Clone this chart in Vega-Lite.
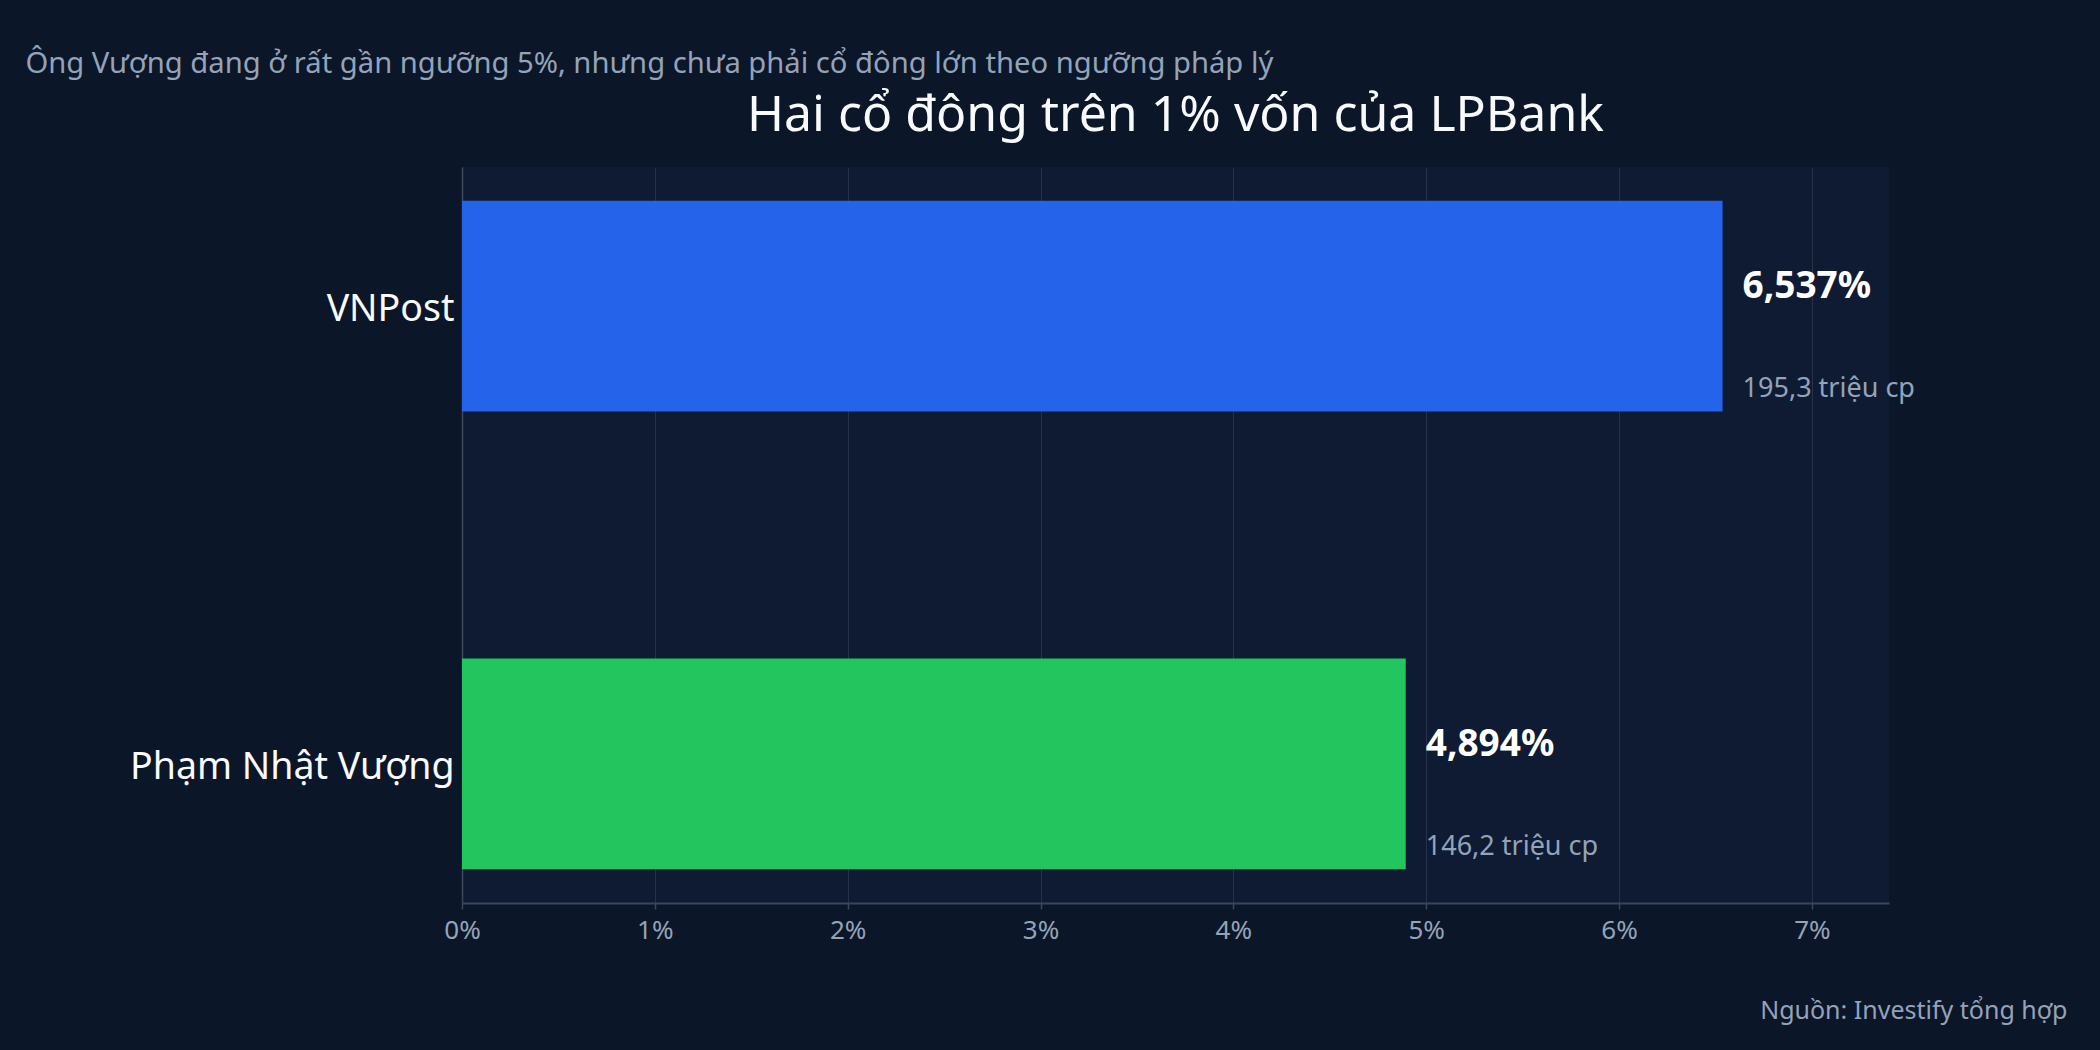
{
  "$schema": "https://vega.github.io/schema/vega-lite/v6.json",
  "width": 1427,
  "height": 736,
  "autosize": "none",
  "padding": {"left": 462, "top": 167, "right": 211, "bottom": 147},
  "background": "#0b1628",
  "title": {
    "text": "Hai cổ đông trên 1% vốn của LPBank",
    "anchor": "middle",
    "frame": "group",
    "font": "Noto Sans",
    "fontSize": 50,
    "fontWeight": "normal",
    "color": "#f8fafc",
    "offset": 28,
    "dy": 120
  },
  "data": {
    "values": [
      {"name": "VNPost", "pct": 6.537, "label": "6,537%", "shares": "195,3 triệu cp"},
      {"name": "Phạm Nhật Vượng", "pct": 4.894, "label": "4,894%", "shares": "146,2 triệu cp"}
    ]
  },
  "encoding": {
    "y": {
      "field": "name",
      "type": "nominal",
      "sort": null,
      "scale": {"paddingInner": 0.54, "paddingOuter": 0.074},
      "axis": {
        "orient": "left",
        "domain": true,
        "domainColor": "#3b475e",
        "domainWidth": 1.5,
        "ticks": false,
        "grid": false,
        "labelPadding": 8,
        "labelOffset": 4,
        "labelColor": "#f8fafc",
        "labelFont": "Noto Sans",
        "labelFontSize": 37.5,
        "labelLimit": 0,
        "title": "Ông Vượng đang ở rất gần ngưỡng 5%, nhưng chưa phải cổ đông lớn theo ngưỡng pháp lý",
        "titleAngle": 0,
        "titleX": -437,
        "titleY": -95,
        "titleAlign": "left",
        "titleBaseline": "alphabetic",
        "titleColor": "#94a3b8",
        "titleFont": "Noto Sans",
        "titleFontSize": 29.2,
        "titleFontWeight": "normal"
      }
    },
    "x": {
      "field": "pct",
      "type": "quantitative",
      "scale": {"domain": [0, 7.4], "nice": false, "zero": true},
      "axis": {
        "orient": "bottom",
        "values": [0, 1, 2, 3, 4, 5, 6, 7],
        "labelExpr": "datum.value + '%'",
        "labelFlush": false,
        "grid": true,
        "gridColor": "#26324a",
        "gridWidth": 1,
        "domain": true,
        "domainColor": "#3b475e",
        "domainWidth": 2,
        "ticks": true,
        "tickColor": "#3b475e",
        "tickSize": 6,
        "tickWidth": 1.5,
        "labelColor": "#94a3b8",
        "labelFont": "Noto Sans",
        "labelFontSize": 26,
        "labelPadding": 8,
        "title": "Nguồn: Investify tổng hợp",
        "titleX": 1605,
        "titleY": 115,
        "titleAlign": "right",
        "titleBaseline": "alphabetic",
        "titleColor": "#94a3b8",
        "titleFont": "Noto Sans",
        "titleFontSize": 25,
        "titleFontWeight": "normal"
      }
    }
  },
  "layer": [
    {
      "mark": {"type": "bar"},
      "encoding": {
        "color": {
          "field": "name",
          "type": "nominal",
          "scale": {"domain": ["VNPost", "Phạm Nhật Vượng"], "range": ["#2563eb", "#22c55e"]},
          "legend": null
        }
      }
    },
    {
      "mark": {"type": "text", "align": "left", "baseline": "alphabetic", "dx": 20, "dy": -8, "font": "Noto Sans", "fontSize": 37, "fontWeight": "bold", "color": "#ffffff"},
      "encoding": {"text": {"field": "label"}}
    },
    {
      "mark": {"type": "text", "align": "left", "baseline": "alphabetic", "dx": 20, "dy": 91, "font": "Noto Sans", "fontSize": 27, "color": "#94a3b8"},
      "encoding": {"text": {"field": "shares"}}
    }
  ],
  "config": {"view": {"fill": "#0f1b33", "stroke": null}}
}
